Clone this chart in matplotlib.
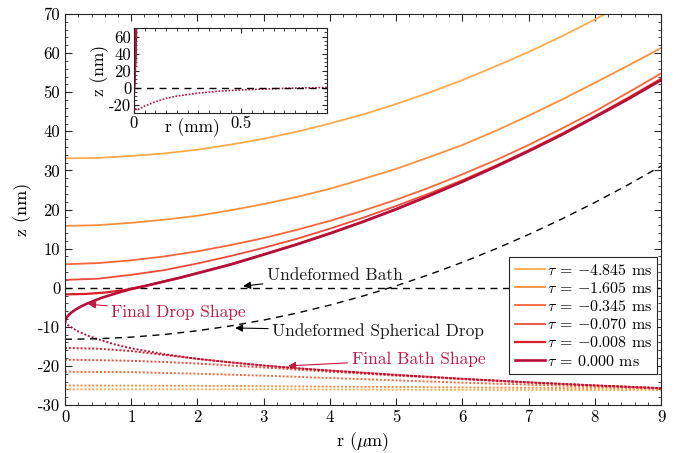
import matplotlib
matplotlib.use("Agg")
import matplotlib.pyplot as plt

plt.rcParams['font.family'] = 'serif'
plt.rcParams['font.serif'] = ['cmr10']
plt.rcParams['mathtext.fontset'] = 'cm'
plt.rcParams['axes.unicode_minus'] = False
plt.rcParams['axes.formatter.use_mathtext'] = False

# ---- data (r in um, z in nm) ----
taus = ["-4.845", "-1.605", "-0.345", "-0.070", "-0.008", "0.000"]
colors = ["#FBAA4C", "#FA903E", "#F8663A", "#EE4B3C", "#D81E2B", "#B50F3A"]

r_half = [0, 0.5, 1, 1.5, 2, 2.5, 3, 3.5, 4, 4.5, 5, 5.5, 6, 6.5, 7, 7.5, 8, 8.5, 9]

drop_r = [
    r_half,
    r_half,
    r_half,
    r_half,
    [0, 0.3, 0.6, 0.9, 1.2, 1.5, 1.75, 2, 2.5, 3, 3.5, 4, 4.5, 5, 5.5, 6, 6.5,
     7, 7.5, 8, 8.5, 9],
    [0, 0.01, 0.03, 0.06, 0.1, 0.15, 0.23, 0.33, 0.43, 0.55, 0.7, 0.85, 1.0,
     1.25, 1.5, 1.75, 2, 2.5, 3, 3.5, 4, 4.5, 5, 5.5, 6, 6.5, 7, 7.5, 8, 8.5, 9],
]
drop_z = [
    [33.1, 33.2, 33.7, 34.35, 35.3, 36.6, 38.1, 39.9, 42.0, 44.3, 47.0, 49.9,
     53.1, 56.6, 60.3, 64.3, 68.6, 73.2, 78.1],
    [15.8, 16.0, 16.6, 17.4, 18.4, 19.8, 21.4, 23.2, 25.3, 27.8, 30.4, 33.4,
     36.5, 40.1, 44.0, 48.1, 52.4, 56.8, 61.3],
    [6.0, 6.3, 7.0, 8.0, 9.3, 10.9, 12.7, 14.8, 17.1, 19.7, 22.5, 25.6, 29.0,
     32.6, 36.5, 40.7, 45.1, 49.9, 54.8],
    [2.0, 2.3, 3.3, 4.5, 6.2, 8.1, 10.2, 12.5, 15.1, 17.9, 20.9, 24.1, 27.5,
     31.2, 35.2, 39.4, 43.9, 48.6, 53.5],
    [-1.7, -1.6, -1.25, -0.6, 0.4, 1.65, 2.65, 3.75, 6.0, 8.55, 11.15, 13.95,
     16.95, 20.15, 23.6, 27.2, 31.0, 35.0, 39.2, 43.7, 48.3, 53.2],
    [-8.7, -8.1, -7.5, -6.9, -6.3, -5.7, -4.9, -4.1, -3.4, -2.6, -1.8, -1.05,
     -0.35, 0.6, 1.6, 2.6, 3.7, 5.9, 8.45, 11.05, 13.85, 16.85, 20.05, 23.5,
     27.1, 30.9, 34.9, 39.1, 43.6, 48.2, 53.1],
]

bath_r = [
    [0, 3, 6, 9],
    [0, 2, 4, 6, 8, 9],
    [0, 1, 2, 3, 4, 5, 6, 7, 8, 9],
    [0, 1, 1.5, 2, 2.5, 3, 4, 5, 6, 7, 8, 9],
    [0, 0.5, 1, 1.5, 2, 2.5, 3, 3.5, 4, 5, 6, 7, 8, 9],
    [0, 0.03, 0.1, 0.2, 0.35, 0.5, 0.75, 1, 1.5, 2, 2.5, 3, 3.5, 4, 5, 6, 7,
     8, 9],
]
bath_z = [
    [-26.0, -26.0, -26.1, -26.2],
    [-25.0, -25.1, -25.3, -25.5, -25.7, -25.8],
    [-21.5, -21.6, -22.0, -22.5, -23.1, -23.7, -24.3, -24.8, -25.3, -25.8],
    [-18.4, -18.7, -19.0, -19.4, -19.9, -20.4, -21.5, -22.5, -23.4, -24.3,
     -25.0, -25.7],
    [-15.4, -15.6, -16.2, -17.2, -18.2, -19.1, -19.9, -20.6, -21.2, -22.3,
     -23.3, -24.2, -25.0, -25.7],
    [-8.7, -9.4, -10.2, -11.2, -12.3, -13.2, -14.5, -15.5, -17.0, -18.2,
     -19.1, -19.9, -20.6, -21.2, -22.3, -23.3, -24.2, -25.0, -25.7],
]

sphere_r = r_half
sphere_z = [-13.2, -13.06, -12.65, -11.97, -11.01, -9.78, -8.28, -6.5, -4.45,
            -2.12, 0.48, 3.35, 6.49, 9.91, 13.6, 17.57, 21.8, 26.3, 31.1]

# inset (r in mm)
inset_drop_r = [0, 0.0045, 0.009, 0.0105]
inset_drop_z = [-8.7, 16.9, 53.1, 70.0]
inset_bath_r = [0, 0.002, 0.005, 0.01, 0.02, 0.05, 0.1, 0.15, 0.2, 0.3, 0.4,
                0.5, 0.6, 0.7, 0.8, 0.9]
inset_bath_z = [-8.7, -20.0, -24.0, -25.7, -25.5, -21.5, -16.5, -12.5, -9.8,
                -6.3, -4.0, -2.6, -1.6, -0.8, -0.2, 0.3]

widths = [1.3, 1.3, 1.3, 1.3, 1.6, 1.9]

fig = plt.figure(figsize=(6.78, 4.53), dpi=100)
ax = fig.add_axes([0.0959, 0.106, 0.8791, 0.863])

for i in range(len(taus)):
    ax.plot(bath_r[i], bath_z[i], color=colors[i], lw=1.4, ls=(0, (1, 1)))
ax.plot([0, 9], [0, 0], color='k', lw=1.0, ls=(0, (5, 4)))
ax.plot(sphere_r, sphere_z, color='k', lw=1.0, ls=(0, (5, 4)))
for i in range(len(taus)):
    ax.plot(drop_r[i], drop_z[i], color=colors[i], lw=widths[i],
            label=r'$\tau$ = ' + taus[i].replace('-', r'$-$') + ' ms')

ax.set_xlim(0, 9)
ax.set_ylim(-30, 70)
ax.set_xticks(range(0, 10))
ax.set_yticks(range(-30, 71, 10))
ax.set_xticks([x / 5 for x in range(0, 46)], minor=True)
ax.set_yticks(range(-30, 71, 2), minor=True)
ax.tick_params(which='both', direction='in', top=True, right=True,
               labelsize=12, color='#262626')
ax.tick_params(which='major', length=5)
ax.tick_params(which='minor', length=2.5)
for s in ax.spines.values():
    s.set_color('#262626')
ax.set_xlabel(r'r ($\mu$m)', fontsize=13, labelpad=4)
ax.set_ylabel('z (nm)', fontsize=13, labelpad=4)

leg = ax.legend(loc='lower right', bbox_to_anchor=(0.994, 0.079),
                borderaxespad=0, fontsize=11.5, handlelength=1.9,
                handletextpad=0.1, labelspacing=0.2, fancybox=False,
                framealpha=1, edgecolor='#262626', borderpad=0.35)
leg.get_frame().set_linewidth(0.8)

crimson = '#C01A43'
arrow_k = dict(arrowstyle='-|>', color='k', lw=0.8, mutation_scale=11,
               shrinkA=1, shrinkB=0)
arrow_c = dict(arrow_k, color=crimson)
ax.annotate('Undeformed Bath', xy=(2.69, 0.4), xytext=(3.05, 3.1),
            fontsize=12.5, va='center', color='#1a1a1a', arrowprops=arrow_k)
ax.annotate('Final Drop Shape', xy=(0.35, -4.2), xytext=(0.7, -6.3),
            fontsize=12.5, va='center', color=crimson, arrowprops=arrow_c)
ax.annotate('Undeformed Spherical Drop', xy=(2.57, -10.3), xytext=(3.13, -11.0),
            fontsize=12.5, va='center', color='#1a1a1a', arrowprops=arrow_k)
ax.annotate('Final Bath Shape', xy=(3.37, -20.0), xytext=(4.33, -18.3),
            fontsize=12.5, va='center', color=crimson, arrowprops=arrow_c)

# inset
ins = fig.add_axes([0.1976, 0.750, 0.2853, 0.188])
ins.plot(inset_bath_r, inset_bath_z, color=colors[5], lw=1.2, ls=(0, (1, 1)))
ins.plot([0, 0.9], [0, 0], color='k', lw=1.0, ls=(0, (5, 4)))
for i in range(len(taus)):
    ins.plot([r / 1000 for r in drop_r[i]], drop_z[i], color=colors[i], lw=1.2)
ins.plot(inset_drop_r, inset_drop_z, color=colors[5], lw=1.6)
ins.set_xlim(0, 0.9)
ins.set_ylim(-30, 70)
ins.set_xticks([0, 0.5])
ins.set_xticklabels(['0', '0.5'])
ins.set_yticks([-20, 0, 20, 40, 60])
ins.set_xticks([x / 20 for x in range(0, 19)], minor=True)
ins.set_yticks(range(-30, 71, 5), minor=True)
ins.tick_params(which='both', direction='in', top=True, right=True,
                labelsize=12, color='#262626', pad=2)
ins.tick_params(which='major', length=3.5)
ins.tick_params(which='minor', length=2)
for s in ins.spines.values():
    s.set_color('#262626')
ins.set_xlabel('r (mm)', fontsize=12.5)
ins.xaxis.set_label_coords(0.30, -0.06, transform=ins.transAxes)
ins.xaxis.label.set_va('top')
ins.set_ylabel('z (nm)', fontsize=12.5, labelpad=0)

fig.savefig('out.png', dpi=100)
